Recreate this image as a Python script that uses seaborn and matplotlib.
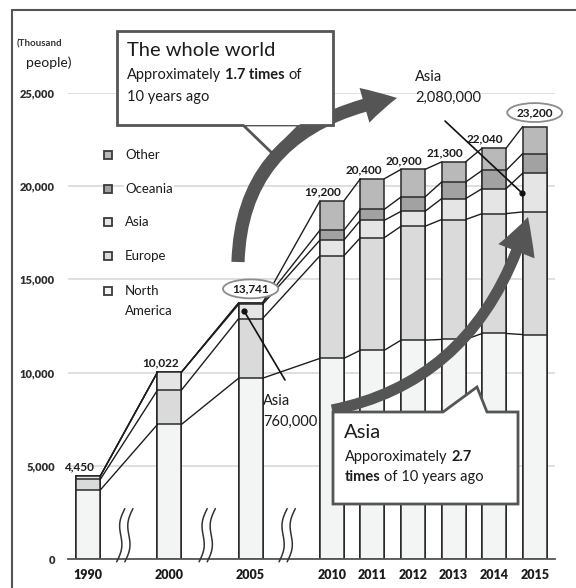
import numpy as np
import pandas as pd
import matplotlib
matplotlib.use("Agg")
import matplotlib.pyplot as plt
import seaborn as sns
from matplotlib.path import Path
from matplotlib.patches import FancyArrowPatch, Polygon, Rectangle
from matplotlib.lines import Line2D
from matplotlib import transforms

# ---- data (thousand people) ----
years = ["1990", "2000", "2005", "2010", "2011", "2012", "2013", "2014", "2015"]
slots = [0, 2, 4, 6, 7, 8, 9, 10, 11]          # horizontal slot of each year (gaps = axis breaks)
break_slots = [0.9, 2.93, 4.9]
regions = ["North America", "Europe", "Asia", "Oceania", "Other"]
north_america = [3700, 7220, 9700, 10760, 11200, 11740, 11780, 12100, 12040]
europe = [570, 1840, 3200, 5500, 6040, 6110, 6430, 6430, 6580]
asia = [180, 962, 760, 840, 930, 800, 1120, 1340, 2080]
oceania = [0, 0, 81, 530, 590, 770, 890, 980, 1050]
other = [0, 0, 0, 1570, 1640, 1480, 1080, 1190, 1450]
circled_years = ["2005", "2015"]
region_colors = ["#f3f4f4", "#dadada", "#e5e5e5", "#a2a2a2", "#b9b9b9"]
yticks = [0, 5000, 10000, 15000, 20000, 25000]

stack = np.vstack([north_america, europe, asia, oceania, other])
cum = np.cumsum(stack, axis=0)
df = pd.DataFrame({"slot": slots, "year": years})
for k, name in enumerate(regions):
    df["cum_" + name] = cum[k]

# ---- figure ----
sns.set_theme(style="white")
plt.rcParams["font.family"] = ["Lato", "DejaVu Sans"]
W, H = 576, 588
fig = plt.figure(figsize=(W / 100, H / 100), dpi=100)
fig.patch.set_facecolor("white")
ax = fig.add_axes([68 / W, 1 - 559 / H, (555 - 68) / W, (559 - 93) / H])
px = transforms.Affine2D().scale(1 / W, -1 / H).translate(0, 1) + fig.transFigure
TXT = "#1c1c1c"
DARK = "#555555"

bar_w = 0.59
# stacked bars: draw cumulative totals from the top layer down
for k in reversed(range(len(regions))):
    sns.barplot(data=df, x="slot", y="cum_" + regions[k], native_scale=True, orient="x",
                color=region_colors[k], saturation=1, width=bar_w, errorbar=None,
                edgecolor="#2a2a2a", linewidth=1.1, ax=ax, zorder=2)

# series lines joining segment boundaries of neighbouring bars
xs = np.array(slots, dtype=float)
for k in range(len(regions)):
    for i in range(len(xs) - 1):
        ax.plot([xs[i] + bar_w / 2, xs[i + 1] - bar_w / 2], [cum[k][i], cum[k][i + 1]],
                color="#1e1e1e", lw=1.0, zorder=3)

# axes styling
ax.set_xlim(-0.5, 11.5)
ax.set_ylim(0, 25000)
ax.set_xlabel("")
ax.set_ylabel("")
ax.set_yticks(yticks, labels=[f"{v:,}" for v in yticks])
ax.set_xticks(slots, labels=years)
ax.set_xticks(np.arange(-0.5, 12, 1.0), minor=True)
ax.yaxis.grid(True, color="#d9d9d9", lw=1.2)
ax.set_axisbelow(True)
for s in ["left", "right", "top"]:
    ax.spines[s].set_visible(False)
ax.spines["bottom"].set_color(DARK)
ax.spines["bottom"].set_linewidth(1.3)
ax.tick_params(axis="y", length=0, pad=9.5, labelsize=8, labelcolor="#2e2e2e")
ax.tick_params(axis="x", which="major", length=0, pad=7, labelsize=9, labelcolor=TXT)
ax.tick_params(axis="x", which="minor", length=4, width=1.1, color=DARK, direction="out")
for lab in ax.get_yticklabels() + ax.get_xticklabels():
    lab.set_fontweight("heavy")

# axis break marks
t = np.linspace(0, 1, 40)
for b in break_slots:
    for dx in (-0.1, 0.1):
        x = b + dx - 0.1 + 0.2 * t + 0.07 * np.sin(2 * np.pi * t)
        y = -150 + 2850 * t
        ax.plot(x, y, color="#333333", lw=1.1, zorder=4, clip_on=False)

# total labels
for i, yr in enumerate(years):
    total = int(cum[-1][i])
    if yr in circled_years:
        ax.annotate(f"{total:,}", (xs[i], total), xytext=(0, 14), textcoords="offset pixels",
                    ha="center", va="center", fontsize=8.5, fontweight="bold", color=TXT, zorder=7,
                    bbox=dict(boxstyle="ellipse,pad=0.1", fc="white", ec="#8c8c8c", lw=1.3))
    else:
        ax.annotate(f"{total:,}", (xs[i], total), xytext=(-9, 9), textcoords="offset pixels",
                    ha="center", va="center", fontsize=8.5, fontweight="bold", color=TXT, zorder=7)

# Asia call-outs with pointer dots
ax.plot([3.84], [13300], "o", ms=3.5, color="#111111", zorder=7)
ax.annotate("", xy=(3.84, 13300), xytext=(285, 380), textcoords=px,
            arrowprops=dict(arrowstyle="-", color="#111111", lw=1.2, shrinkA=0, shrinkB=0), zorder=7)
ax.plot([10.68], [19650], "o", ms=3.5, color="#111111", zorder=7)
ax.annotate("", xy=(10.68, 19650), xytext=(445, 121), textcoords=px,
            arrowprops=dict(arrowstyle="-", color="#111111", lw=1.2, shrinkA=0, shrinkB=0), zorder=7)
fig.text(263 / W, 1 - 401 / H, "Asia", fontsize=10.5, color=TXT, va="center", ha="left", zorder=8)
fig.text(263 / W, 1 - 422 / H, "760,000", fontsize=10.5, color=TXT, va="center", ha="left", zorder=8)
fig.text(415 / W, 1 - 77 / H, "Asia", fontsize=10.5, color=TXT, va="center", ha="left", zorder=8)
fig.text(415 / W, 1 - 98 / H, "2,080,000", fontsize=10.5, color=TXT, va="center", ha="left", zorder=8)

# growth arrows
arrow_style1 = "simple,head_length=24,head_width=26,tail_width=9.5"
arrow1 = FancyArrowPatch(path=Path([(238, 262), (242, 125), (397, 98)],
                                   [Path.MOVETO, Path.CURVE3, Path.CURVE3]),
                         arrowstyle=arrow_style1, transform=px, fc=DARK, ec="none", zorder=6)
fig.add_artist(arrow1)
arrow_style2 = "simple,head_length=26,head_width=28,tail_width=8"
arrow2 = FancyArrowPatch(path=Path([(332, 410), (481, 380), (528, 217)],
                                   [Path.MOVETO, Path.CURVE3, Path.CURVE3]),
                         arrowstyle=arrow_style2, transform=px, fc=DARK, ec="none", zorder=6)
fig.add_artist(arrow2)

# "The whole world" call-out box
fig.add_artist(Polygon([(243, 125), (272, 153), (300, 125)], closed=True, transform=px,
                       fc="white", ec=DARK, lw=2.0, zorder=5))
fig.add_artist(Rectangle((117, 31), 216, 94, transform=px, fc="white", ec="none", zorder=7))
fig.add_artist(Line2D([243, 117, 117, 333, 333, 300], [125, 125, 31, 31, 125, 125],
                      transform=px, color=DARK, lw=2.0, zorder=8, solid_joinstyle="miter"))

# Asia call-out box
fig.add_artist(Polygon([(333, 412), (443, 412), (477, 387), (487, 412), (518, 412),
                        (518, 504), (333, 504)], closed=True, transform=px,
                       fc="white", ec=DARK, lw=2.0, zorder=8, joinstyle="miter"))

renderer = fig.canvas.get_renderer()


def rich_line(x, y, parts, size):
    """Draw one line made of normal / bold pieces, starting at pixel (x, y)."""
    probe = fig.text(0, 0, "x x", fontsize=size)
    w2 = probe.get_window_extent(renderer).width
    probe.set_text("xx")
    space = w2 - probe.get_window_extent(renderer).width
    probe.remove()
    cur = x
    for s, bold in parts:
        tx = fig.text(cur / W, 1 - y / H, s, fontsize=size, fontweight="bold" if bold else "normal",
                      color=TXT, va="center", ha="left", zorder=9)
        cur += tx.get_window_extent(renderer).width + space


rich_line(127, 50, [("The whole world", False)], 14.5)
rich_line(127, 75, [("Approximately", False), ("1.7 times", True), ("of", False)], 10.5)
rich_line(127, 97, [("10 years ago", False)], 10.5)
rich_line(344, 432, [("Asia", False)], 14.5)
rich_line(345, 457, [("Apporoximately", False), ("2.7", True)], 10.5)
rich_line(345, 477, [("times", True), ("of 10 years ago", False)], 10.5)

# legend (top entry = top of the stack)
legend_rows = {"Other": [(155, "Other")], "Oceania": [(189, "Oceania")], "Asia": [(222, "Asia")],
               "Europe": [(256, "Europe")], "North America": [(291, "North"), (311, "America")]}
for k, name in enumerate(regions):
    rows = legend_rows[name]
    yc = rows[0][0]
    fig.add_artist(Rectangle((104, yc - 4), 8, 8, transform=px, fc=region_colors[k],
                             ec="#3a3a3a", lw=1.3, zorder=6))
    for yy, txt in rows:
        fig.text(125 / W, 1 - yy / H, txt, fontsize=9.5, color=TXT, va="center", ha="left", zorder=6,
                 bbox=dict(boxstyle="square,pad=0.1", fc="white", ec="none"))

# unit label
fig.text(17 / W, 1 - 44 / H, "(Thousand", fontsize=7, fontweight="bold", color="#333333",
         va="center", ha="left")
fig.text(26 / W, 1 - 63 / H, "people)", fontsize=10, color=TXT, va="center", ha="left")

# frame lines
fig.add_artist(Line2D([12, 576], [10, 10], transform=px, color="#555555", lw=1.5))
fig.add_artist(Line2D([12, 12], [10, 588], transform=px, color="#555555", lw=1.5))

fig.savefig("out.png", dpi=100, facecolor="white")
